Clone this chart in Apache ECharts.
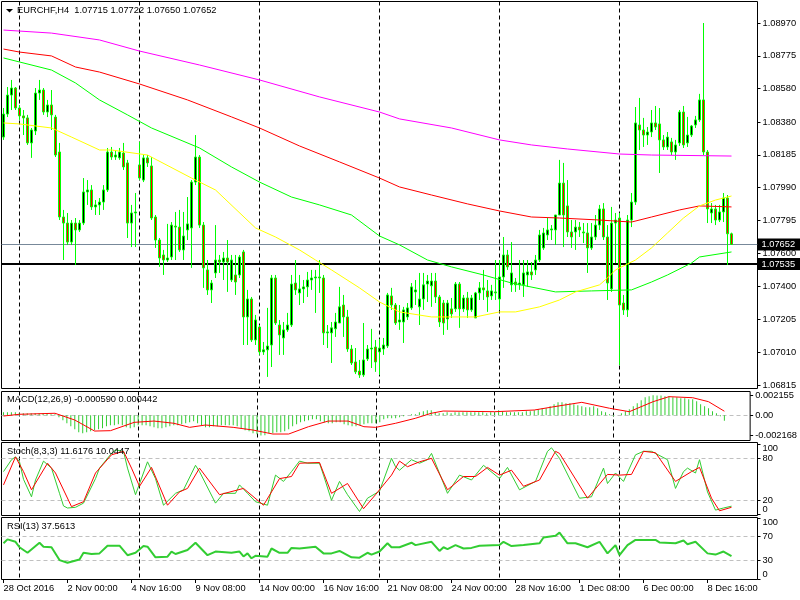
<!DOCTYPE html>
<html><head><meta charset="utf-8">
<script src="https://cdn.jsdelivr.net/npm/echarts@6/dist/echarts.min.js"></script>
<style>html,body{margin:0;padding:0;background:#fff}#c{width:800px;height:600px}</style>
</head><body><div id="c"></div>
<script>
const timeLabels = ['28 Oct 2016','2 Nov 00:00','4 Nov 16:00','9 Nov 08:00','14 Nov 00:00','16 Nov 16:00','21 Nov 08:00','24 Nov 00:00','28 Nov 16:00','1 Dec 08:00','6 Dec 00:00','8 Dec 16:00'];
const mainTicks = [1.08970,1.08775,1.08580,1.08380,1.08185,1.07990,1.07795,1.07600,1.07400,1.07205,1.07010,1.06815];
const macdTicks = [0.002155,0,-0.002168];
const stochLevels = [20,80];
const rsiLevels = [30,70];
const scaleTop = [100];
const scaleBottom = [0];
const weekStarts = [4,34,64,94,124,154];
const lastPrice = 1.07652;
const levelPrice = 1.07535;

const opens = [1.08291,1.08428,1.08541,1.08583,1.08464,1.08417,1.08405,1.08256,1.08327,1.08553,1.08571,1.08440,1.08482,1.08410,1.08202,1.07815,1.07779,1.07666,1.07779,1.07738,1.07779,1.07964,1.07976,1.07875,1.07887,1.07904,1.07976,1.08202,1.08172,1.08167,1.08196,1.08137,1.07779,1.07839,1.08125,1.08035,1.08167,1.08119,1.07815,1.07678,1.07589,1.07559,1.07577,1.07761,1.07755,1.07619,1.07738,1.07750,1.08023,1.08172,1.07767,1.07500,1.07381,1.07482,1.07559,1.07547,1.07571,1.07440,1.07470,1.07470,1.07607,1.07220,1.07327,1.07083,1.07160,1.07012,1.07024,1.07053,1.07452,1.07172,1.07095,1.07143,1.07172,1.07422,1.07363,1.07387,1.07399,1.07440,1.07452,1.07458,1.07452,1.07125,1.07125,1.07149,1.07184,1.07291,1.07220,1.07029,1.06952,1.06898,1.06875,1.06970,1.07029,1.07041,1.07012,1.07029,1.07047,1.07345,1.07291,1.07190,1.07190,1.07220,1.07274,1.07369,1.07280,1.07327,1.07416,1.07405,1.07434,1.07339,1.07303,1.07208,1.07268,1.07268,1.07416,1.07268,1.07333,1.07262,1.07214,1.07363,1.07393,1.07375,1.07345,1.07369,1.07327,1.07458,1.07589,1.07411,1.07428,1.07411,1.07411,1.07470,1.07488,1.07500,1.07559,1.07631,1.07708,1.07738,1.07738,1.07827,1.08017,1.07881,1.07726,1.07726,1.07755,1.07726,1.07720,1.07631,1.07696,1.07767,1.07863,1.07696,1.07387,1.07779,1.07809,1.07303,1.07262,1.07797,1.07904,1.08363,1.08333,1.08303,1.08321,1.08375,1.08369,1.08274,1.08232,1.08262,1.08202,1.08256,1.08440,1.08256,1.08303,1.08363,1.08393,1.08512,1.08202,1.07839,1.07863,1.07797,1.07845,1.07928,1.07715];
const highs = [1.08464,1.08589,1.08631,1.08589,1.08482,1.08452,1.08423,1.08345,1.08583,1.08631,1.08583,1.08512,1.08571,1.08423,1.08256,1.07857,1.07839,1.07797,1.07809,1.07797,1.08047,1.08035,1.08005,1.07916,1.07928,1.08005,1.08226,1.08232,1.08214,1.08226,1.08256,1.08155,1.07887,1.07958,1.08262,1.08184,1.08184,1.08172,1.07827,1.07690,1.07619,1.07774,1.07785,1.07845,1.07857,1.07845,1.07934,1.08035,1.08303,1.08184,1.07785,1.07559,1.07440,1.07767,1.07589,1.07607,1.07678,1.07589,1.07589,1.07589,1.07619,1.07381,1.07339,1.07232,1.07172,1.07071,1.07274,1.07470,1.07470,1.07202,1.07190,1.07244,1.07470,1.07559,1.07470,1.07440,1.07488,1.07500,1.07500,1.07559,1.07470,1.07172,1.07190,1.07244,1.07399,1.07351,1.07262,1.07053,1.07035,1.06964,1.07184,1.07053,1.07149,1.07083,1.07089,1.07095,1.07363,1.07393,1.07303,1.07291,1.07280,1.07303,1.07422,1.07440,1.07482,1.07482,1.07470,1.07482,1.07482,1.07351,1.07321,1.07321,1.07333,1.07428,1.07428,1.07351,1.07369,1.07351,1.07369,1.07428,1.07500,1.07440,1.07411,1.07559,1.07559,1.07696,1.07619,1.07666,1.07452,1.07559,1.07559,1.07559,1.07547,1.07589,1.07738,1.07750,1.07809,1.07767,1.07827,1.08155,1.08137,1.08035,1.07797,1.07797,1.07785,1.07779,1.07779,1.07779,1.07827,1.07887,1.07898,1.07767,1.07875,1.07839,1.07839,1.07351,1.07827,1.07958,1.08470,1.08524,1.08405,1.08351,1.08452,1.08476,1.08464,1.08303,1.08321,1.08286,1.08274,1.08452,1.08476,1.08411,1.08363,1.08417,1.08548,1.08970,1.08214,1.07898,1.07887,1.07887,1.07958,1.07946,1.07722];
const lows = [1.08274,1.08410,1.08452,1.08452,1.08393,1.08303,1.08244,1.08167,1.08303,1.08512,1.08423,1.08410,1.08333,1.08172,1.07797,1.07559,1.07648,1.07648,1.07529,1.07726,1.07767,1.07887,1.07857,1.07827,1.07827,1.07857,1.07964,1.08155,1.08155,1.08155,1.08095,1.07690,1.07636,1.07636,1.08035,1.08023,1.08113,1.07797,1.07631,1.07518,1.07470,1.07547,1.07559,1.07559,1.07607,1.07559,1.07678,1.07512,1.08005,1.07750,1.07393,1.07351,1.07303,1.07452,1.07482,1.07440,1.07369,1.07428,1.07351,1.07452,1.07053,1.07053,1.07071,1.07053,1.06994,1.06994,1.06863,1.06922,1.07172,1.06994,1.06994,1.07131,1.07160,1.07351,1.07291,1.07303,1.07339,1.07381,1.07244,1.07363,1.07053,1.07035,1.06946,1.07101,1.07184,1.07101,1.07012,1.06934,1.06880,1.06857,1.06863,1.06958,1.06916,1.06893,1.06875,1.06994,1.07035,1.07262,1.07172,1.07143,1.07065,1.07202,1.07262,1.07291,1.07172,1.07262,1.07309,1.07280,1.07303,1.07160,1.07113,1.07143,1.07214,1.07250,1.07155,1.07250,1.07214,1.07250,1.07214,1.07321,1.07321,1.07250,1.07321,1.07321,1.07262,1.07393,1.07500,1.07369,1.07369,1.07381,1.07339,1.07399,1.07440,1.07470,1.07547,1.07619,1.07678,1.07678,1.07648,1.07827,1.07636,1.07696,1.07631,1.07619,1.07696,1.07660,1.07482,1.07619,1.07678,1.07738,1.07678,1.07321,1.07369,1.07541,1.06934,1.07232,1.07220,1.07755,1.07887,1.08214,1.08232,1.08244,1.08291,1.08333,1.08077,1.08214,1.08214,1.08184,1.08155,1.08238,1.08226,1.08232,1.08291,1.08345,1.08381,1.08184,1.07779,1.07779,1.07767,1.07785,1.07785,1.07529,1.07650];
const closes = [1.08428,1.08541,1.08583,1.08464,1.08417,1.08405,1.08256,1.08333,1.08553,1.08571,1.08440,1.08482,1.08423,1.08184,1.07815,1.07779,1.07666,1.07779,1.07738,1.07779,1.07964,1.07976,1.07875,1.07887,1.07904,1.07976,1.08202,1.08172,1.08184,1.08202,1.08113,1.07779,1.07839,1.07845,1.08047,1.08167,1.08137,1.07809,1.07678,1.07571,1.07559,1.07571,1.07767,1.07755,1.07619,1.07702,1.07774,1.08023,1.08172,1.07767,1.07512,1.07381,1.07422,1.07559,1.07547,1.07571,1.07547,1.07559,1.07428,1.07577,1.07220,1.07327,1.07083,1.07202,1.07012,1.07024,1.07047,1.07452,1.07184,1.07113,1.07143,1.07172,1.07416,1.07381,1.07387,1.07399,1.07440,1.07452,1.07458,1.07452,1.07125,1.07131,1.07155,1.07190,1.07280,1.07220,1.07029,1.06946,1.06893,1.06875,1.06964,1.07029,1.07035,1.06952,1.07035,1.07053,1.07351,1.07291,1.07184,1.07202,1.07262,1.07274,1.07399,1.07381,1.07327,1.07411,1.07434,1.07434,1.07339,1.07190,1.07184,1.07303,1.07238,1.07416,1.07268,1.07333,1.07262,1.07333,1.07363,1.07393,1.07381,1.07339,1.07375,1.07363,1.07458,1.07589,1.07518,1.07482,1.07411,1.07422,1.07482,1.07488,1.07470,1.07559,1.07708,1.07720,1.07738,1.07744,1.07827,1.08017,1.07827,1.07726,1.07696,1.07755,1.07738,1.07720,1.07631,1.07696,1.07767,1.07863,1.07696,1.07422,1.07779,1.07797,1.07291,1.07262,1.07797,1.07904,1.08375,1.08333,1.08303,1.08321,1.08375,1.08351,1.08274,1.08232,1.08291,1.08202,1.08244,1.08440,1.08244,1.08303,1.08357,1.08393,1.08512,1.08202,1.07863,1.07863,1.07797,1.07845,1.07928,1.07715,1.07652];

const maMagenta = [[0,1.08928],[12,1.08910],[24,1.08869],[34,1.08803],[49,1.08720],[64,1.08631],[79,1.08530],[94,1.08440],[99,1.08399],[112,1.08345],[124,1.08274],[132,1.08244],[141,1.08220],[154,1.08190],[162,1.08184],[182,1.08178]];
const maRed = [[0,1.08815],[4,1.08797],[12,1.08774],[18,1.08708],[24,1.08678],[34,1.08607],[46,1.08512],[57,1.08411],[64,1.08345],[74,1.08238],[84,1.08143],[94,1.08047],[99,1.07994],[107,1.07946],[116,1.07893],[124,1.07851],[132,1.07815],[139,1.07809],[149,1.07797],[157,1.07785],[162,1.07815],[169,1.07857],[174,1.07881],[182,1.07875]];
const maGreen = [[0,1.08762],[4,1.08738],[12,1.08690],[18,1.08613],[24,1.08512],[31,1.08423],[37,1.08345],[49,1.08226],[57,1.08113],[64,1.08023],[72,1.07934],[79,1.07887],[87,1.07827],[94,1.07702],[99,1.07649],[106,1.07559],[112,1.07518],[120,1.07470],[127,1.07422],[138,1.07369],[147,1.07375],[157,1.07381],[162,1.07428],[166,1.07470],[172,1.07541],[174,1.07577],[182,1.07607]];
const maYellow = [[0,1.08375],[4,1.08369],[12,1.08345],[17,1.08291],[24,1.08214],[27,1.08214],[36,1.08184],[47,1.08047],[53,1.07976],[63,1.07750],[68,1.07696],[74,1.07619],[78,1.07559],[82,1.07500],[89,1.07393],[94,1.07309],[99,1.07250],[107,1.07220],[118,1.07220],[124,1.07250],[128,1.07250],[134,1.07280],[139,1.07321],[143,1.07369],[149,1.07411],[151,1.07452],[153,1.07500],[158,1.07559],[162,1.07631],[166,1.07720],[170,1.07809],[174,1.07881],[178,1.07916],[182,1.07940]];

const macdHist = [0.00032,0.00032,0.00032,0.00032,0.00022,0.00022,0.00022,0.00022,0.00022,0.00022,0.00022,0.00022,0.00011,0.00011,
-0.00022,-0.00054,-0.00086,-0.00119,-0.00151,-0.00184,-0.00194,-0.00184,-0.00173,-0.00162,-0.00151,
-0.0014,-0.00119,-0.00108,-0.00108,-0.00097,-0.00108,-0.0013,-0.0014,-0.0013,
-0.00108,-0.00108,-0.00108,-0.00119,-0.0013,-0.0014,-0.0014,
-0.0013,-0.00119,-0.00108,-0.00108,-0.00097,-0.00086,-0.00076,-0.00065,
-0.00086,-0.00108,-0.0013,-0.0013,-0.00119,-0.00119,-0.00108,-0.00108,-0.00108,-0.00108,
-0.00119,-0.0014,-0.00162,-0.00173,-0.00194,-0.00205,-0.002168,-0.00216,
-0.00194,-0.00194,-0.00184,-0.00184,-0.00173,-0.00151,
-0.00119,-0.00097,-0.00076,-0.00065,-0.00054,-0.00043,-0.00043,-0.00065,
-0.00076,-0.00086,-0.00086,-0.00076,-0.00076,-0.00097,-0.00108,-0.00119,-0.00119,-0.00108,
-0.00097,-0.00086,-0.00086,-0.00086,-0.00076,-0.00043,-0.00032,-0.00032,-0.00032,
-0.00022,-0.00011,0,0.00011,0.00011,
0.00032,0.00043,0.00054,0.00054,0.00032,0.00022,
0.00022,0.00032,0.00022,0.00032,0.00032,0.00032,0.00032,0.00032,0.00032,0.00032,0.00032,0.00022,0.00032,0.00032,0.00054,
0.00043,0.00032,0.00032,0.00032,0.00032,0.00032,
0.00043,0.00043,0.00054,0.00065,0.00076,0.00076,
0.00097,0.00119,0.0014,0.0014,
0.0013,0.0013,0.00119,0.00108,0.00097,0.00086,0.00086,0.00097,0.00076,
0.00043,0.00032,0.00011,-0.00011,0,0.00022,
0.00043,0.00065,0.00097,0.0013,0.00162,0.00194,0.00205,
0.002155,0.00215,0.00214,0.00205,0.00205,0.00194,0.00194,0.00184,0.00184,
0.00173,0.00173,0.00151,0.00119,0.00097,0.00076,
0.00043,0.00022,-0.00011,-0.00059];
const macdSignal = [[0,-0.00008],[4,0.00011],[13,0.00022],[18,-0.00051],[23,-0.0017],[27,-0.00166],[33,-0.00076],[38,-0.00062],[43,-0.00086],[47,-0.0013],[51,-0.00105],[58,-0.0013],[63,-0.00159],[68,-0.00202],[72,-0.00202],[77,-0.00123],[82,-0.00062],[87,-0.00062],[91,-0.00123],[94,-0.0013],[99,-0.00086],[104,-0.00032],[108,0.00022],[111,0.00046],[124,0.00039],[134,0.00057],[139,0.00093],[146,0.0014],[153,0.00076],[158,0.00039],[164,0.00147],[168,0.00201],[174,0.0019],[178,0.00147],[182,0.000442]];

const stochK = [[0,61],[2,78],[3,82],[4,75],[5,50],[7,25],[8,49],[10,76],[12,66],[14,30],[15,12],[16,9],[18,10],[20,16],[23,51],[24,66],[27,87],[28,92],[30,90],[31,66],[33,28],[36,75],[38,51],[40,13],[43,30],[45,35],[48,70],[49,61],[53,16],[55,30],[58,30],[59,42],[61,30],[63,18],[66,13],[68,56],[70,47],[72,61],[74,76],[76,73],[79,73],[80,56],[82,20],[84,47],[86,28],[89,4],[91,23],[94,33],[97,80],[98,68],[99,63],[102,78],[104,73],[106,78],[107,87],[111,30],[114,56],[117,49],[120,70],[124,51],[126,67],[129,35],[133,47],[136,90],[137,95],[139,80],[144,23],[147,25],[150,66],[151,44],[153,59],[155,47],[158,85],[160,90],[162,90],[166,78],[168,37],[170,61],[171,66],[173,59],[174,78],[176,32],[178,6],[180,9],[182,11.62]];
const stochD = [[0,42],[3,82],[5,61],[7,35],[11,73],[13,59],[17,11],[20,18],[23,59],[27,85],[30,90],[32,66],[34,40],[37,67],[41,13],[44,32],[46,37],[49,66],[54,28],[60,37],[65,13],[69,51],[72,54],[74,73],[79,74],[82,30],[86,44],[90,8],[93,28],[97,56],[99,76],[101,68],[104,75],[107,80],[111,35],[115,54],[118,54],[121,67],[124,56],[127,63],[130,40],[134,49],[138,90],[139,87],[146,23],[151,57],[154,56],[157,57],[160,90],[163,88],[168,47],[172,61],[174,67],[177,23],[179,5],[182,10.04]];
const rsiLine = [[0,58.5],[1,65],[3,61],[4,52],[6,43],[9,59.5],[10,53],[12,52],[14,31],[16,26.6],[19,32],[20,43],[22,41],[24,42],[26,54.6],[29,54.6],[31,39],[33,43],[35,54],[36,53],[38,35.5],[41,36.6],[42,45],[43,41],[46,47.6],[48,59.5],[51,39],[53,45],[57,43],[59,45],[60,37],[61,42],[62,34],[63,38],[66,36.6],[67,50],[69,43],[71,43],[72,51],[74,50],[78,53],[80,42],[82,42],[84,46],[87,35.5],[89,35],[91,43],[92,40],[94,45],[96,58.5],[97,52],[99,52],[102,59.5],[103,55.5],[107,61],[109,46],[110,52],[111,49],[113,55.5],[115,50],[117,51],[119,54.6],[124,55.6],[125,61],[127,54],[130,55.6],[134,58.5],[135,68],[138,71],[139,76],[141,58.5],[143,58.5],[146,52],[149,61],[151,42],[153,55.6],[154,39],[156,55.6],[158,64],[163,64],[164,60],[168,58.5],[170,63],[171,57],[173,61],[176,42],[178,40],[180,45],[182,37.56]];

const FONT = 'Liberation Sans, Arial, sans-serif';
const FS = 9.3;
const N = 189;
const cats = Array.from({length: N}, (_, i) => String(i));
const candleData = opens.map((o, i) => [o, closes[i], lows[i], highs[i]]);

const grids = [
  {left: 1.5, width: 756, top: 1.5, height: 387},
  {left: 1.5, width: 756, top: 391.5, height: 49},
  {left: 1.5, width: 756, top: 442.5, height: 73},
  {left: 1.5, width: 756, top: 517.5, height: 62}
].map(g => Object.assign(g, {show: true, borderColor: '#000', borderWidth: 1, backgroundColor: '#fff'}));

function xAx(k, last) {
  return {
    gridIndex: k, type: 'category', data: cats, boundaryGap: true,
    axisLine: {show: false},
    axisTick: last ? {show: true, interval: 15, alignWithLabel: true, length: 4, lineStyle: {color: '#000'}} : {show: false},
    axisLabel: last ? {show: true, interval: 15, align: 'left', margin: 4, color: '#000', fontSize: FS, fontFamily: FONT,
      formatter: (v, i) => timeLabels[i / 16] || ''} : {show: false},
    splitLine: {show: true, alignWithLabel: true, interval: (i) => weekStarts.indexOf(i) >= 0,
      lineStyle: {color: '#000', width: 1, type: [4, 3]}}
  };
}
function yAx(k, min, max, ticks, fmt, vAlign) {
  const lbl = {customValues: ticks, formatter: fmt, color: '#000', fontSize: FS, fontFamily: FONT, margin: 5,
    showMinLabel: true, showMaxLabel: true};
  if (vAlign) lbl.verticalAlign = vAlign;
  return {
    gridIndex: k, type: 'value', position: 'right', min: min, max: max,
    axisLine: {show: false}, splitLine: {show: false},
    axisTick: {show: true, customValues: ticks, length: 3, lineStyle: {color: '#000'}},
    axisLabel: lbl
  };
}
const intFmt = v => String(v);

const levelStyle = {color: '#c0c0c0', width: 1, type: [4, 3]};
function levels(vals) {
  return {silent: true, symbol: ['none', 'none'], z: 1, precision: 6, label: {show: false}, animation: false,
    data: vals.map(v => ({yAxis: v, lineStyle: levelStyle}))};
}
const tagLabel = {show: true, position: 'end', distance: 0, color: '#fff', backgroundColor: '#000',
  padding: [2, 5, 1, 4], fontSize: FS, fontFamily: FONT, formatter: p => Number(p.value).toFixed(5)};

const titleStyle = {fontSize: FS, fontWeight: 'normal', color: '#000', fontFamily: FONT};
const option = {
  animation: false,
  backgroundColor: '#fff',
  title: [
    {text: 'EURCHF,H4  1.07715 1.07722 1.07650 1.07652', left: 17, top: 6, padding: 0, textStyle: titleStyle},
    {text: 'MACD(12,26,9) -0.000590 0.000442', left: 7, top: 395, padding: 0, textStyle: titleStyle},
    {text: 'Stoch(8,3,3) 11.6176 10.0447', left: 7, top: 446.5, padding: 0, textStyle: titleStyle},
    {text: 'RSI(13) 37.5613', left: 7, top: 521.5, padding: 0, textStyle: titleStyle}
  ],
  graphic: [{type: 'polygon', shape: {points: [[6, 9], [13, 9], [9.5, 12.5]]}, style: {fill: '#000'}, z: 10}],
  grid: grids,
  xAxis: [xAx(0), xAx(1), xAx(2), xAx(3, true)],
  yAxis: [
    yAx(0, 1.06794, 1.09098, mainTicks, v => v.toFixed(5)),
    yAx(1, -0.00272, 0.00257, macdTicks, v => v === 0 ? '0.00' : v.toFixed(6)),
    yAx(2, -1.7, 102.6, stochLevels, intFmt),
    yAx(3, -0.8, 100.8, rsiLevels, intFmt),
    yAx(2, -1.7, 102.6, scaleTop, intFmt, 'top'),
    yAx(2, -1.7, 102.6, scaleBottom, intFmt, 'bottom'),
    yAx(3, -0.8, 100.8, scaleTop, intFmt, 'top'),
    yAx(3, -0.8, 100.8, scaleBottom, intFmt, 'bottom')
  ],
  series: [
    {type: 'candlestick', xAxisIndex: 0, yAxisIndex: 0, data: candleData, barWidth: 2, z: 2,
      itemStyle: {color: '#000', color0: '#ff0000', borderColor: '#00ff00', borderColor0: '#00ff00', borderColorDoji: '#00ff00', borderWidth: 1}},
    {type: 'line', xAxisIndex: 0, yAxisIndex: 0, data: maMagenta, symbol: 'none', z: 3, lineStyle: {color: '#ff00ff', width: 1},
      markLine: {silent: true, symbol: ['none', 'none'], z: 1, precision: 5, animation: false,
        data: [
          {yAxis: lastPrice, lineStyle: {color: '#778899', width: 1, type: 'solid'}, label: tagLabel},
          {yAxis: levelPrice, lineStyle: {color: '#000', width: 2, type: 'solid'}, label: tagLabel}
        ]}},
    {type: 'line', xAxisIndex: 0, yAxisIndex: 0, data: maRed, symbol: 'none', z: 3, lineStyle: {color: '#ff0000', width: 1}},
    {type: 'line', xAxisIndex: 0, yAxisIndex: 0, data: maGreen, symbol: 'none', z: 3, lineStyle: {color: '#00ff00', width: 1}},
    {type: 'line', xAxisIndex: 0, yAxisIndex: 0, data: maYellow, symbol: 'none', z: 3, lineStyle: {color: '#ffff00', width: 1}},
    {type: 'bar', xAxisIndex: 1, yAxisIndex: 1, data: macdHist, barWidth: 1, itemStyle: {color: '#32cd32'}, z: 2,
      markLine: levels([0])},
    {type: 'line', xAxisIndex: 1, yAxisIndex: 1, data: macdSignal, symbol: 'none', z: 3, lineStyle: {color: '#ff0000', width: 1}},
    {type: 'line', xAxisIndex: 2, yAxisIndex: 2, data: stochK, symbol: 'none', z: 3, lineStyle: {color: '#32cd32', width: 1},
      markLine: levels([20, 80])},
    {type: 'line', xAxisIndex: 2, yAxisIndex: 2, data: stochD, symbol: 'none', z: 3, lineStyle: {color: '#ff0000', width: 1}},
    {type: 'line', xAxisIndex: 3, yAxisIndex: 3, data: rsiLine, symbol: 'none', z: 3, lineStyle: {color: '#32cd32', width: 2},
      markLine: levels([30, 70])}
  ]
};
const chart = echarts.init(document.getElementById('c'), null, {renderer: 'canvas'});
chart.setOption(option);
</script>
</body></html>
